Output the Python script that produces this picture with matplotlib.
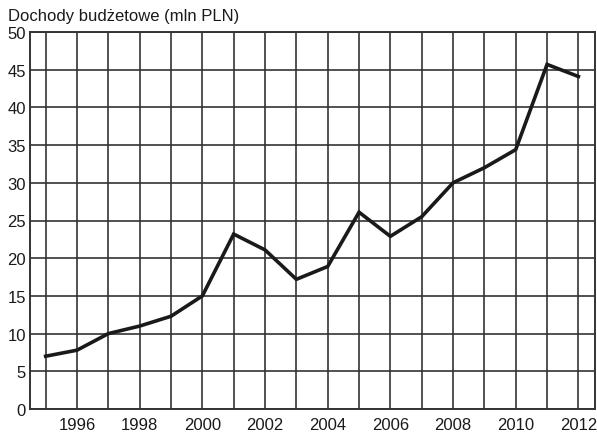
import matplotlib
matplotlib.use("Agg")
import matplotlib.pyplot as plt
from matplotlib import font_manager

years = [1995, 1996, 1997, 1998, 1999, 2000, 2001, 2002, 2003,
         2004, 2005, 2006, 2007, 2008, 2009, 2010, 2011, 2012]
income = [7.0, 7.8, 10.0, 11.0, 12.3, 15.0, 23.2, 21.1, 17.2,
          18.9, 26.1, 22.9, 25.5, 30.0, 32.0, 34.4, 45.7, 44.1]
x_labels = [1996, 1998, 2000, 2002, 2004, 2006, 2008, 2010, 2012]
y_ticks = [0, 5, 10, 15, 20, 25, 30, 35, 40, 45, 50]

names = {f.name for f in font_manager.fontManager.ttflist}
narrow = "Liberation Sans Narrow" in names
print("narrow available:", narrow)
if narrow:
    plt.rcParams["font.family"] = ["Liberation Sans Narrow", "DejaVu Sans"]
    fs = 13.5
else:
    plt.rcParams["font.family"] = ["Liberation Sans", "DejaVu Sans"]
    fs = 12

fig = plt.figure(figsize=(5.97, 4.35), dpi=100)
ax = fig.add_axes([30 / 597, 1 - 410 / 435, 565 / 597, 377 / 435])

# grid: every year vertically, every 5 horizontally
for yr in years:
    ax.axvline(yr, color="#333333", lw=1.2, zorder=1)
for v in y_ticks:
    ax.axhline(v, color="#333333", lw=1.2, zorder=1)

ax.plot(years, income, color="#1a1a1a", lw=2.6, zorder=3, solid_joinstyle="miter")

ax.set_xlim(1994.5, 2012.53)
ax.set_ylim(0, 50)
ax.set_xticks(x_labels)
ax.set_yticks(y_ticks)
ax.tick_params(length=0, labelsize=fs, colors="#1a1a1a", pad=3)
ax.tick_params(axis="x", pad=6)
for s in ax.spines.values():
    s.set_color("#333333")
    s.set_linewidth(1.4)

fig.text(8 / 597, 1 - 16 / 435, "Dochody budżetowe (mln PLN)", fontsize=fs,
         color="#1a1a1a", va="center", ha="left")

fig.savefig("out.png", dpi=100)
